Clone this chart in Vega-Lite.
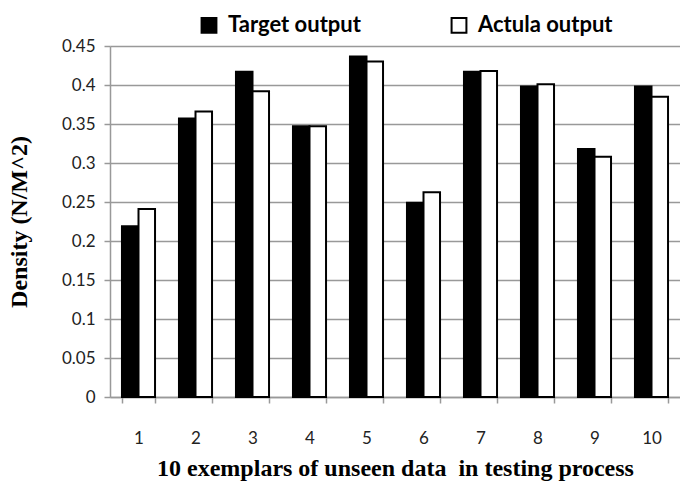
{
  "$schema": "https://vega.github.io/schema/vega-lite/v6.json",
  "width": 570,
  "height": 351,
  "autosize": {"type": "none"},
  "padding": {"left": 110, "top": 46, "right": 0, "bottom": 84},
  "background": "white",
  "config": {"view": {"stroke": null}},
  "data": {"values": [
    {"sample": "1", "series": "Target output", "value": 0.219},
    {"sample": "1", "series": "Actula output", "value": 0.241},
    {"sample": "2", "series": "Target output", "value": 0.357},
    {"sample": "2", "series": "Actula output", "value": 0.366},
    {"sample": "3", "series": "Target output", "value": 0.417},
    {"sample": "3", "series": "Actula output", "value": 0.392},
    {"sample": "4", "series": "Target output", "value": 0.347},
    {"sample": "4", "series": "Actula output", "value": 0.347},
    {"sample": "5", "series": "Target output", "value": 0.4365},
    {"sample": "5", "series": "Actula output", "value": 0.430},
    {"sample": "6", "series": "Target output", "value": 0.249},
    {"sample": "6", "series": "Actula output", "value": 0.2625},
    {"sample": "7", "series": "Target output", "value": 0.417},
    {"sample": "7", "series": "Actula output", "value": 0.418},
    {"sample": "8", "series": "Target output", "value": 0.398},
    {"sample": "8", "series": "Actula output", "value": 0.401},
    {"sample": "9", "series": "Target output", "value": 0.318},
    {"sample": "9", "series": "Actula output", "value": 0.308},
    {"sample": "10", "series": "Target output", "value": 0.398},
    {"sample": "10", "series": "Actula output", "value": 0.385}
  ]},
  "mark": {"type": "bar", "stroke": "black", "strokeWidth": 2},
  "encoding": {
    "x": {
      "field": "sample", "type": "ordinal", "sort": null,
      "scale": {"paddingInner": 0.42, "paddingOuter": 0.21},
      "axis": {
        "title": "10 exemplars of unseen data \u00a0in testing process",
        "titleFont": "Liberation Serif", "titleFontSize": 24, "titleFontWeight": "bold", "titleColor": "black",
        "titlePadding": 10,
        "labelAngle": 0, "labelFont": "Lato", "labelFontSize": 17, "labelColor": "#222",
        "labelPadding": 27,
        "tickBand": "extent", "tickSize": 6, "tickColor": "#999", "tickWidth": 1.5,
        "domainColor": "#999", "domainWidth": 1.5, "grid": false
      }
    },
    "xOffset": {"field": "series", "type": "nominal", "sort": ["Target output", "Actula output"], "scale": {"paddingInner": 0, "paddingOuter": 0}},
    "y": {
      "field": "value", "type": "quantitative",
      "scale": {"domain": [0, 0.45], "nice": false},
      "axis": {
        "title": "Density (N/M^2)",
        "titleFont": "Liberation Serif", "titleFontSize": 24, "titleFontWeight": "bold", "titleColor": "black",
        "titlePadding": 30,
        "values": [0, 0.05, 0.1, 0.15, 0.2, 0.25, 0.3, 0.35, 0.4, 0.45],
        "format": "~g",
        "labelFont": "Lato", "labelFontSize": 17, "labelColor": "#222", "labelPadding": 9,
        "tickSize": 6, "tickColor": "#999", "tickWidth": 1.5,
        "domainColor": "#999", "domainWidth": 1.5,
        "grid": true, "gridColor": "#999", "gridWidth": 1.5
      }
    },
    "fill": {
      "field": "series", "type": "nominal",
      "sort": ["Target output", "Actula output"],
      "scale": {"domain": ["Target output", "Actula output"], "range": ["black", "white"]},
      "legend": {
        "title": null, "orient": "none", "direction": "horizontal",
        "legendX": 88, "legendY": -32,
        "symbolType": "square", "symbolSize": 220, "symbolStrokeColor": "black", "symbolStrokeWidth": 2,
        "labelFont": "Lato", "labelFontSize": 22, "labelFontWeight": "bold", "labelColor": "black",
        "labelOffset": 8, "columnPadding": 86, "labelLimit": 300
      }
    }
  }
}
